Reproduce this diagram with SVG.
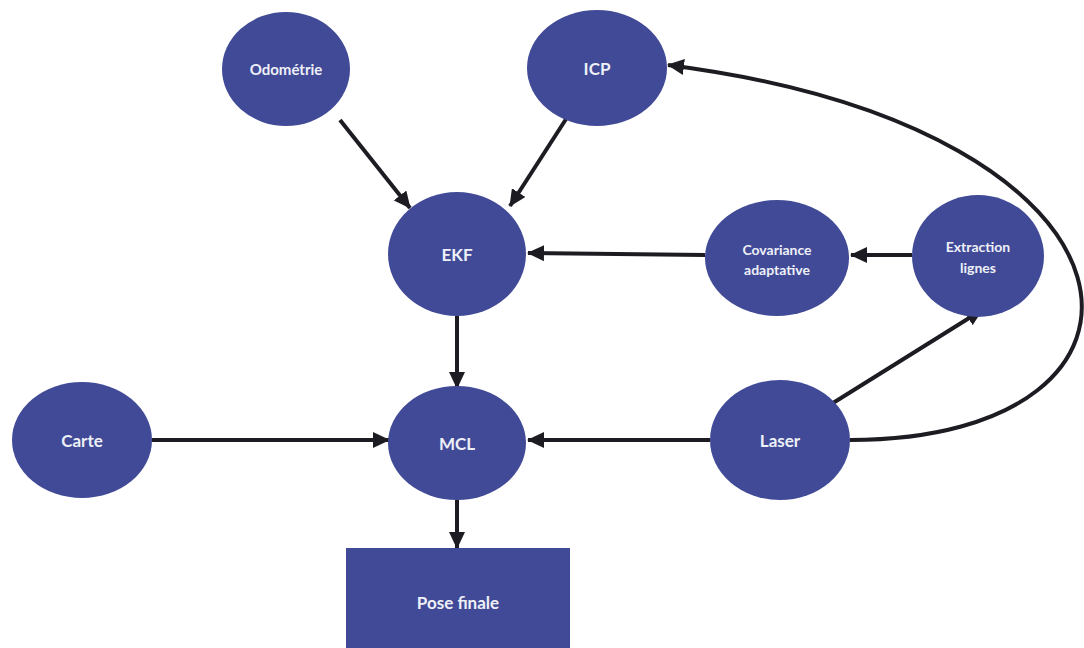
<svg xmlns="http://www.w3.org/2000/svg" width="1084" height="648" viewBox="0 0 1084 648">
<style>
.node{fill:#414a96;}
.lbl{fill:#eef0f8;font-family:Lato,"Open Sans","Liberation Sans",sans-serif;font-weight:bold;text-anchor:middle;dominant-baseline:central;}
.edge{fill:none;stroke:#1c1c22;stroke-width:4;marker-end:url(#ah);}
</style>
<defs>
<marker id="ah" markerUnits="userSpaceOnUse" markerWidth="18" markerHeight="16" refX="16" refY="8" orient="auto">
<path d="M0,0 L17,8 L0,16 Z" fill="#1c1c22"/>
</marker>
</defs>
<rect width="1084" height="648" fill="#ffffff"/>
<g id="connectors">
<line class="edge" x1="340" y1="120" x2="410" y2="208"/>
<line class="edge" x1="568" y1="116" x2="510" y2="206"/>
<line class="edge" x1="705" y1="255" x2="528" y2="253"/>
<line class="edge" x1="912" y1="255" x2="851" y2="255"/>
<line class="edge" x1="457" y1="316" x2="457" y2="388"/>
<line class="edge" x1="152" y1="440" x2="389" y2="440"/>
<line class="edge" x1="710" y1="440" x2="528" y2="440"/>
<line class="edge" x1="457" y1="500" x2="457" y2="548"/>
<line class="edge" x1="833" y1="403" x2="982" y2="310"/>
<path class="edge" d="M850 440 C1192 440 1175 130 668 65"/>
</g>
<g id="odometrie"><ellipse class="node" cx="286" cy="69" rx="64" ry="57"/><text class="lbl" x="286" y="69" font-size="15">Odométrie</text></g>
<g id="icp"><ellipse class="node" cx="597" cy="68" rx="70" ry="58"/><text class="lbl" x="597" y="68" font-size="17">ICP</text></g>
<g id="ekf"><ellipse class="node" cx="457" cy="254" rx="69" ry="62"/><text class="lbl" x="457" y="254" font-size="17">EKF</text></g>
<g id="covariance"><ellipse class="node" cx="777" cy="258" rx="72" ry="58"/><text class="lbl" x="777" y="258" font-size="14"><tspan x="777" dy="-9">Covariance</tspan><tspan x="777" dy="20">adaptative</tspan></text></g>
<g id="extraction"><ellipse class="node" cx="978" cy="256" rx="66" ry="61"/><text class="lbl" x="978" y="256" font-size="14"><tspan x="978" dy="-10">Extraction</tspan><tspan x="978" dy="21">lignes</tspan></text></g>
<g id="carte"><ellipse class="node" cx="82" cy="440" rx="70" ry="58"/><text class="lbl" x="82" y="440" font-size="17">Carte</text></g>
<g id="mcl"><ellipse class="node" cx="457" cy="443" rx="69" ry="57"/><text class="lbl" x="457" y="443" font-size="17">MCL</text></g>
<g id="laser"><ellipse class="node" cx="780" cy="440" rx="70" ry="60"/><text class="lbl" x="780" y="440" font-size="17">Laser</text></g>
<g id="pose"><rect class="node" x="346" y="548" width="224" height="100"/><text class="lbl" x="458" y="602" font-size="17">Pose finale</text></g>
</svg>
